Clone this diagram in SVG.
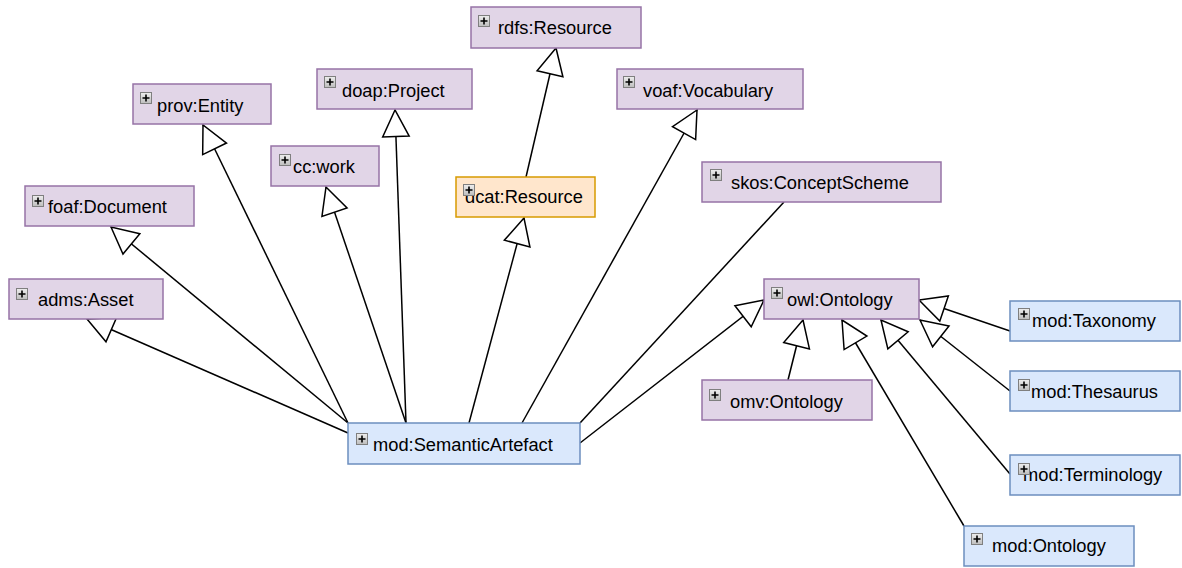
<svg xmlns="http://www.w3.org/2000/svg" width="1182" height="568" viewBox="0 0 1182 568">
<style>
.p{fill:#e1d5e7;stroke:#9673a6;stroke-width:1.5}
.b{fill:#dae8fc;stroke:#6c8ebf;stroke-width:1.5}
.o{fill:#ffe6cc;stroke:#d79b00;stroke-width:1.5}
text{font-family:"Liberation Sans",Arial,sans-serif;font-size:18.3px;fill:#000}
.e{fill:none;stroke:#000;stroke-width:1.5}
</style>
<defs>
<linearGradient id="g" x1="0" y1="0" x2="0" y2="1"><stop offset="0" stop-color="#eeeeee"/><stop offset="1" stop-color="#bdbdbd"/></linearGradient>
<g id="ic"><rect x="0.5" y="0.5" width="11" height="11" fill="url(#g)" stroke="#7f7f7f" stroke-width="1"/><path d="M2.5 6H9.5M6 2.5V9.5" stroke="#000" stroke-width="1.6"/></g>
<marker id="t" viewBox="-28 -15 30 30" refX="0" refY="0" markerWidth="30" markerHeight="30" markerUnits="userSpaceOnUse" orient="auto"><path d="M0,0L-26.5,-13.25L-26.5,13.25Z" fill="#fff" stroke="#000" stroke-width="1.5"/></marker>
</defs>
<g id="connectors">
<path class="e" d="M348,433L87,319" marker-end="url(#t)"/>
<path class="e" d="M348,423L111,227" marker-end="url(#t)"/>
<path class="e" d="M348,423L203,125" marker-end="url(#t)"/>
<path class="e" d="M406,423L326,187" marker-end="url(#t)"/>
<path class="e" d="M406,423L395,110" marker-end="url(#t)"/>
<path class="e" d="M469,423L524,218" marker-end="url(#t)"/>
<path class="e" d="M526,177L556,48" marker-end="url(#t)"/>
<path class="e" d="M522,423L697,110" marker-end="url(#t)"/>
<path class="e" d="M580,423L784,202"/>
<path class="e" d="M580,443L764,300" marker-end="url(#t)"/>
<path class="e" d="M788,380L803,320" marker-end="url(#t)"/>
<path class="e" d="M964,526L842,320" marker-end="url(#t)"/>
<path class="e" d="M1010,474L881,320" marker-end="url(#t)"/>
<path class="e" d="M1010,391L920,320" marker-end="url(#t)"/>
<path class="e" d="M1010,331L919,300" marker-end="url(#t)"/>
</g>
<g id="rdfs-resource"><rect class="p" x="471" y="7" width="170" height="41"/><use href="#ic" x="478" y="15"/><text x="498" y="34">rdfs:Resource</text></g>
<g id="prov-entity"><rect class="p" x="133" y="84" width="138" height="40"/><use href="#ic" x="140" y="92"/><text x="157" y="112">prov:Entity</text></g>
<g id="doap-project"><rect class="p" x="317" y="69" width="155" height="40"/><use href="#ic" x="324" y="76"/><text x="342" y="97">doap:Project</text></g>
<g id="voaf-vocabulary"><rect class="p" x="617" y="69" width="186" height="40"/><use href="#ic" x="623" y="76"/><text x="643" y="97">voaf:Vocabulary</text></g>
<g id="cc-work"><rect class="p" x="271" y="146" width="108" height="40"/><use href="#ic" x="279" y="154"/><text x="293" y="173">cc:work</text></g>
<g id="foaf-document"><rect class="p" x="25" y="186" width="169" height="40"/><use href="#ic" x="32" y="195"/><text x="48" y="213">foaf:Document</text></g>
<g id="dcat-resource"><rect class="o" x="456" y="177" width="139" height="40"/><text x="465" y="203">dcat:Resource</text><use href="#ic" x="463" y="184"/></g>
<g id="skos-conceptscheme"><rect class="p" x="702" y="162" width="239" height="40"/><use href="#ic" x="710" y="169"/><text x="731" y="189">skos:ConceptScheme</text></g>
<g id="adms-asset"><rect class="p" x="9" y="279" width="154" height="40"/><use href="#ic" x="16" y="288"/><text x="38" y="306">adms:Asset</text></g>
<g id="owl-ontology"><rect class="p" x="764" y="279" width="155" height="40"/><use href="#ic" x="771" y="287"/><text x="787" y="306">owl:Ontology</text></g>
<g id="mod-taxonomy"><rect class="b" x="1010" y="301" width="170" height="40"/><use href="#ic" x="1018" y="308"/><text x="1032" y="327">mod:Taxonomy</text></g>
<g id="mod-thesaurus"><rect class="b" x="1010" y="371" width="170" height="40"/><use href="#ic" x="1018" y="379"/><text x="1031" y="398">mod:Thesaurus</text></g>
<g id="omv-ontology"><rect class="p" x="702" y="380" width="170" height="40"/><use href="#ic" x="709" y="389"/><text x="730" y="408">omv:Ontology</text></g>
<g id="mod-semanticartefact"><rect class="b" x="348" y="423" width="232" height="41"/><use href="#ic" x="356" y="433"/><text x="373" y="451">mod:SemanticArtefact</text></g>
<g id="mod-terminology"><rect class="b" x="1010" y="455" width="170" height="40"/><text x="1023" y="481">mod:Terminology</text><use href="#ic" x="1018" y="463"/></g>
<g id="mod-ontology"><rect class="b" x="964" y="526" width="170" height="40"/><use href="#ic" x="971" y="533"/><text x="992" y="552">mod:Ontology</text></g>
</svg>
